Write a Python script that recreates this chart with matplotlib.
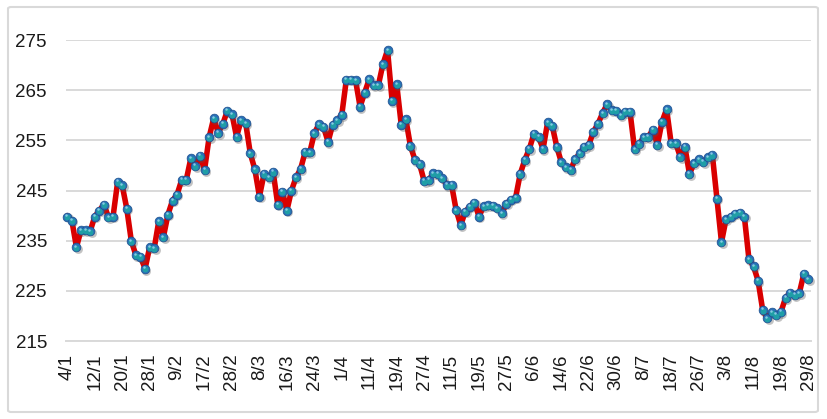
import matplotlib
matplotlib.use("Agg")
import matplotlib.pyplot as plt
import matplotlib.transforms as mtransforms
from matplotlib.patches import FancyBboxPatch

values = [
    239.8, 239.0, 233.7, 237.1, 237.1, 236.9, 239.8, 241.0, 242.2, 239.7,
    239.8, 246.7, 246.0, 241.4, 234.9, 232.1, 231.8, 229.4, 233.7, 233.5,
    238.9, 235.7, 240.2, 243.0, 244.2, 247.1, 247.1, 251.4, 249.9, 251.9,
    249.1, 255.6, 259.4, 256.5, 258.3, 260.9, 260.2, 255.7, 259.0, 258.4,
    252.4, 249.2, 243.8, 248.3, 247.6, 248.7, 242.2, 244.8, 241.0, 245.0,
    247.6, 249.3, 252.7, 252.6, 256.4, 258.2, 257.7, 254.7, 258.1, 259.0,
    260.1, 267.1, 267.1, 267.0, 261.7, 264.5, 267.2, 266.0, 266.0, 270.2,
    273.0, 262.9, 266.2, 258.1, 259.2, 253.9, 251.1, 250.3, 246.9, 247.1,
    248.4, 248.3, 247.4, 246.1, 246.1, 241.1, 238.1, 240.8, 241.8, 242.6,
    239.8, 241.9, 242.1, 242.0, 241.5, 240.5, 242.4, 243.2, 243.6, 248.3,
    251.1, 253.3, 256.3, 255.7, 253.3, 258.6, 257.9, 253.7, 250.6, 249.6,
    249.1, 251.2, 252.4, 253.7, 254.1, 256.7, 258.3, 260.4, 262.2, 261.0,
    260.9, 260.0, 260.7, 260.7, 253.2, 254.3, 255.6, 255.7, 257.1, 254.1,
    258.7, 261.2, 254.4, 254.4, 251.7, 253.7, 248.3, 250.4, 251.2, 250.7,
    251.6, 252.1, 243.4, 234.7, 239.3, 239.8, 240.4, 240.6, 239.8, 231.3,
    229.9, 227.0, 221.2, 219.5, 220.7, 220.2, 220.8, 223.6, 224.6, 224.2,
    224.5, 228.4, 227.3,
]
tick_labels = [
    "4/1", "12/1", "20/1", "28/1", "9/2", "17/2", "28/2", "8/3", "16/3", "24/3",
    "1/4", "11/4", "19/4", "27/4", "11/5", "19/5", "27/5", "6/6", "14/6", "22/6",
    "30/6", "8/7", "18/7", "26/7", "3/8", "11/8", "19/8", "29/8",
]
y_ticks = [215, 225, 235, 245, 255, 265, 275]

plt.rcParams['font.family'] = ['Liberation Sans', 'DejaVu Sans']

fig = plt.figure(figsize=(8.27, 4.19), dpi=100)
fig.patch.set_facecolor('white')

# outer chart border
border = FancyBboxPatch((8 / 827, 7 / 419), 810 / 827, 405 / 419,
                        boxstyle="round,pad=0,rounding_size=0.004",
                        transform=fig.transFigure, facecolor='none',
                        edgecolor='#D9D9D9', linewidth=1.5)
fig.patches.append(border)

ax = fig.add_axes([65.7 / 827, 1 - 341 / 419, (810.7 - 65.7) / 827, (341 - 40) / 419])

x = list(range(len(values)))

ax.set_ylim(215, 275)
ax.set_xlim(-0.35, len(values) - 1 + 0.5)
ax.set_yticks(y_ticks)
ax.set_yticklabels([str(v) for v in y_ticks])
ax.set_xticks(list(range(0, len(values), 6)))
ax.set_xticklabels(tick_labels, rotation=90)

ax.grid(axis='y', color='#D9D9D9', linewidth=1.4)
ax.set_axisbelow(True)
for s in ['top', 'right', 'left']:
    ax.spines[s].set_visible(False)
ax.spines['bottom'].set_color('#D9D9D9')
ax.spines['bottom'].set_linewidth(1.4)
ax.tick_params(axis='both', length=0, labelsize=13.5, colors='#1a1a1a')
ax.tick_params(axis='y', pad=13.5)
ax.tick_params(axis='x', pad=9)

# red line
ax.plot(x, values, color='#D90000', linewidth=4.0, solid_joinstyle='round',
        zorder=2, clip_on=False)

# marker shadow
shadow_tr = mtransforms.offset_copy(ax.transData, fig=fig, x=1.0, y=-1.3, units='points')
ax.plot(x, values, linestyle='none', marker='o', markersize=6.4,
        markerfacecolor='#555555', markeredgewidth=0, alpha=0.35,
        transform=shadow_tr, zorder=3, clip_on=False)
# marker base (sphere)
ax.plot(x, values, linestyle='none', marker='o', markersize=6.3,
        markerfacecolor='#2A6FB8', markeredgecolor='#1B4F8C', markeredgewidth=0.5,
        zorder=4, clip_on=False)
# inner teal glow
glow_tr = mtransforms.offset_copy(ax.transData, fig=fig, x=0.0, y=-0.5, units='points')
ax.plot(x, values, linestyle='none', marker='o', markersize=4.2,
        markerfacecolor='#1F9EA6', markeredgewidth=0,
        transform=glow_tr, zorder=5, clip_on=False)
# highlight
hl_tr = mtransforms.offset_copy(ax.transData, fig=fig, x=-0.7, y=1.1, units='points')
ax.plot(x, values, linestyle='none', marker='o', markersize=1.8,
        markerfacecolor='#9FD8F2', markeredgewidth=0, alpha=0.8,
        transform=hl_tr, zorder=6, clip_on=False)

fig.savefig('out.png', dpi=100, facecolor='white')
